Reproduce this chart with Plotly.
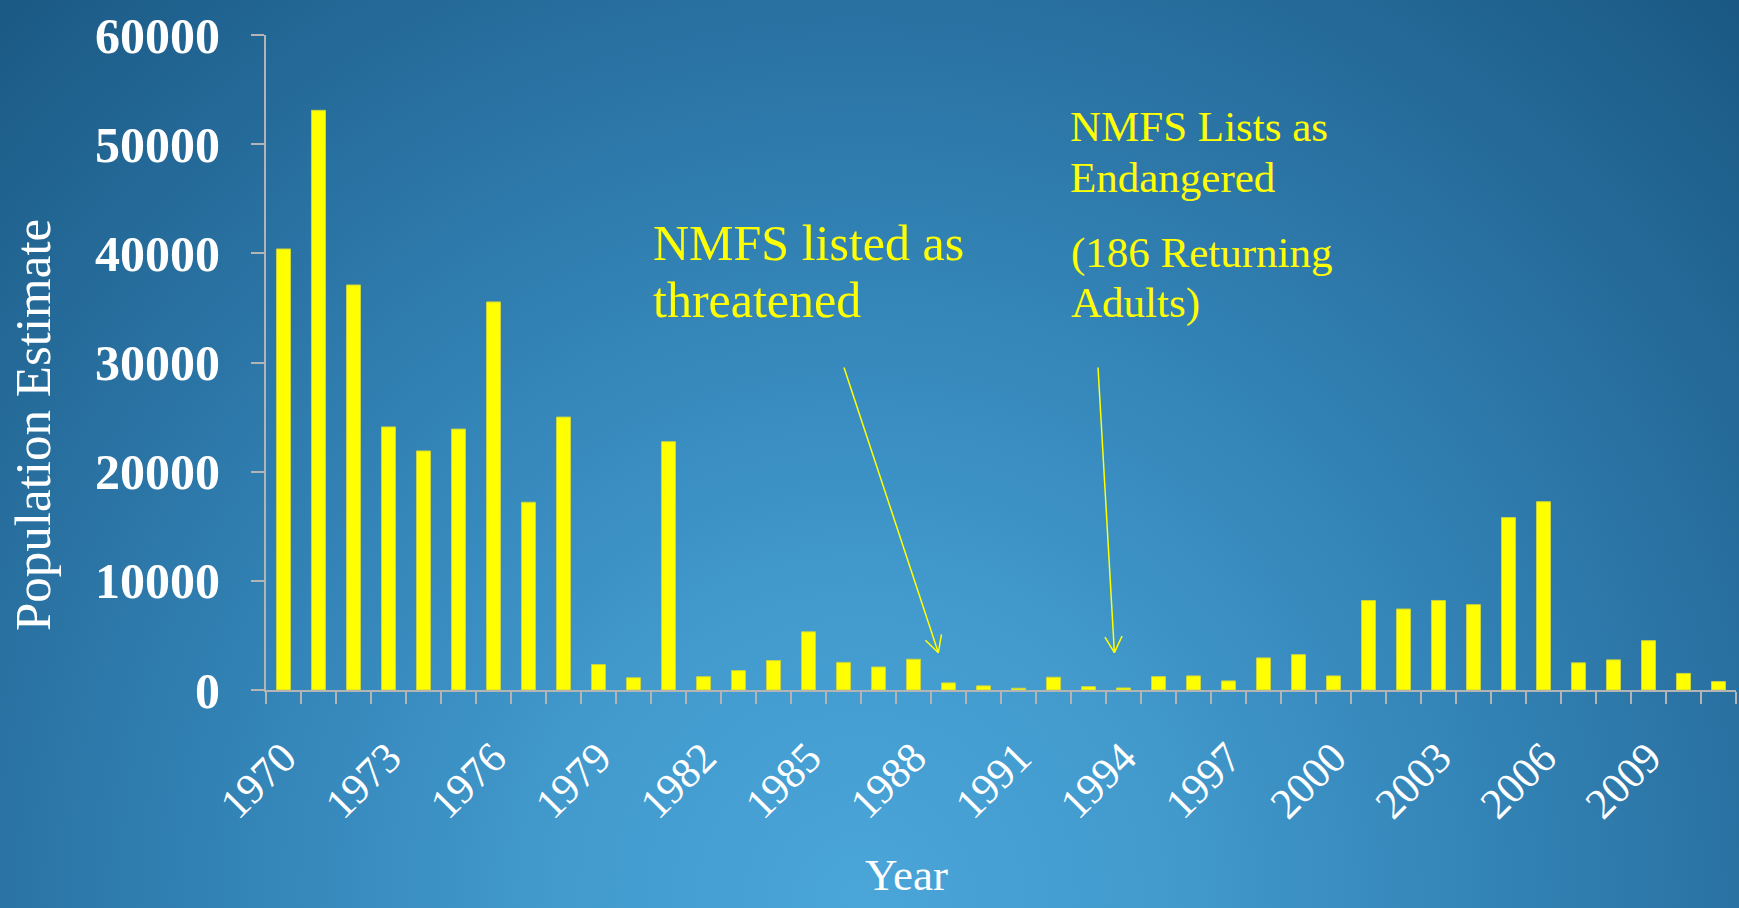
import base64
import math
import plotly.graph_objects as go

# ---------------- data ----------------
years = list(range(1970, 2012))
population = [40400, 53100, 37100, 24100, 21900, 23900, 35550, 17200, 25000, 2330,
              1120, 22750, 1220, 1780, 2700, 5330, 2530, 2110, 2820, 650,
              380, 160, 1170, 310, 186, 1230, 1290, 830, 2940, 3240,
              1290, 8200, 7420, 8200, 7820, 15800, 17250, 2490, 2760, 4520,
              1520, 770]
tick_years = list(range(1970, 2010, 3))
tick_text = [str(y) for y in tick_years]

note1_lines = ["NMFS listed as", "threatened"]
note2_lines = ["NMFS Lists as", "Endangered"]
note3_lines = ["(186 Returning", "Adults)"]

# ---------------- layout constants ----------------
W, H = 1739, 908
ML, MR, MT, MB = 266, 3, 35, 218
PW, PH = W - ML - MR, H - MT - MB
XR = [1969.5, 2011.5]
YR = [0, 60000]
px_per_x = PW / (XR[1] - XR[0])
px_per_y = PH / (YR[1] - YR[0])

YELLOW = "#FFFF00"
AXIS = "#b4b4b4"
SERIF = "Liberation Serif, Times New Roman, serif"


def px(xp):   # figure pixel -> paper x
    return (xp - ML) / PW


def py(yp):   # figure pixel -> paper y
    return (MT + PH - yp) / PH


# background radial gradient as inline SVG
svg = (
    f'<svg xmlns="http://www.w3.org/2000/svg" width="{W}" height="{H}">'
    '<defs><radialGradient id="g" gradientUnits="userSpaceOnUse" cx="860" cy="900" r="1260">'
    '<stop offset="0" stop-color="#4aa5d8"/>'
    '<stop offset="0.24" stop-color="#429acd"/>'
    '<stop offset="0.48" stop-color="#3485b8"/>'
    '<stop offset="0.72" stop-color="#2870a0"/>'
    '<stop offset="1" stop-color="#1a5883"/>'
    '</radialGradient></defs>'
    f'<rect width="{W}" height="{H}" fill="url(#g)"/></svg>'
)
bg_src = "data:image/svg+xml;base64," + base64.b64encode(svg.encode()).decode()

fig = go.Figure()
fig.add_trace(go.Bar(
    x=years, y=population, width=0.4,
    marker=dict(color=YELLOW, line=dict(color="#c9d43c", width=1)),
    showlegend=False, hoverinfo="x+y",
))

fig.update_layout(
    width=W, height=H,
    margin=dict(l=ML, r=MR, t=MT, b=MB, pad=0),
    paper_bgcolor="#2a76a8",
    plot_bgcolor="rgba(0,0,0,0)",
    images=[dict(
        source=bg_src, xref="paper", yref="paper",
        x=-ML / PW, y=1 + MT / PH, sizex=W / PW, sizey=H / PH,
        sizing="stretch", xanchor="left", yanchor="top", layer="below",
    )],
    xaxis=dict(
        range=XR, showgrid=False, zeroline=False,
        showline=True, linecolor=AXIS, linewidth=2,
        tickmode="array", tickvals=tick_years, ticktext=tick_text,
        ticks="", tickangle=-45, ticklabelstandoff=23,
        tickfont=dict(family=SERIF, size=43, color="white"),
        minor=dict(ticks="outside", tick0=1969.5, dtick=1, ticklen=12,
                   tickcolor=AXIS, tickwidth=1.5, showgrid=False),
    ),
    yaxis=dict(
        range=YR, showgrid=False, zeroline=False,
        showline=True, linecolor=AXIS, linewidth=2,
        tick0=0, dtick=10000, ticks="outside", ticklen=13,
        tickcolor=AXIS, tickwidth=1.5, ticklabelstandoff=21,
        tickformat="d",
        tickfont=dict(family=SERIF, size=50, color="white", weight="bold"),
    ),
)

# axis titles
fig.add_annotation(
    text="Population Estimate", xref="paper", yref="paper",
    x=px(33), y=py(425), xanchor="center", yanchor="middle",
    textangle=-90, showarrow=False,
    font=dict(family=SERIF, size=51, color="white"),
)
fig.add_annotation(
    text="Year", xref="paper", yref="paper",
    x=px(906), y=py(875), xanchor="center", yanchor="middle", showarrow=False,
    font=dict(family=SERIF, size=45, color="white"),
)


# text notes: one annotation per line, positioned by baseline (figure px)
def add_lines(lines, left, baselines, size):
    for text, base in zip(lines, baselines):
        fig.add_annotation(
            text=text, xref="paper", yref="paper",
            x=px(left), y=py(base - 0.34 * size),
            xanchor="left", yanchor="middle", align="left", showarrow=False,
            font=dict(family=SERIF, size=size, color=YELLOW),
        )


add_lines(note1_lines, 651, [260, 316.7], 50)
add_lines(note2_lines, 1068, [140.7, 191.7], 43)
add_lines(note3_lines, 1069, [268, 318], 43)


# arrows with open V heads
def add_arrow(x0, y0, x1, y1):
    fig.add_annotation(
        x=x1, y=y1, ax=x0, ay=y0, xref="x", yref="y", axref="x", ayref="y",
        text="", showarrow=True, arrowhead=0, arrowwidth=1.5, arrowcolor=YELLOW,
        standoff=0, startstandoff=0,
    )
    dx = (x1 - x0) * px_per_x
    dy = -(y1 - y0) * px_per_y
    L = math.hypot(dx, dy)
    bx, by = -dx / L, -dy / L
    for ang in (-28, 28):
        a = math.radians(ang)
        rx = bx * math.cos(a) - by * math.sin(a)
        ry = bx * math.sin(a) + by * math.cos(a)
        fig.add_annotation(
            x=x1, y=y1, xref="x", yref="y", ax=rx * 20, ay=ry * 20,
            text="", showarrow=True, arrowhead=0, arrowwidth=1.5,
            arrowcolor=YELLOW, standoff=0, startstandoff=0,
        )


add_arrow(1986.0, 29680, 1988.71, 3420)
add_arrow(1993.27, 29680, 1993.74, 3420)

fig.write_html(
    "out.html",
    config={"displayModeBar": False},
    post_script="document.body.style.margin='0';document.body.style.overflow='hidden';",
)
